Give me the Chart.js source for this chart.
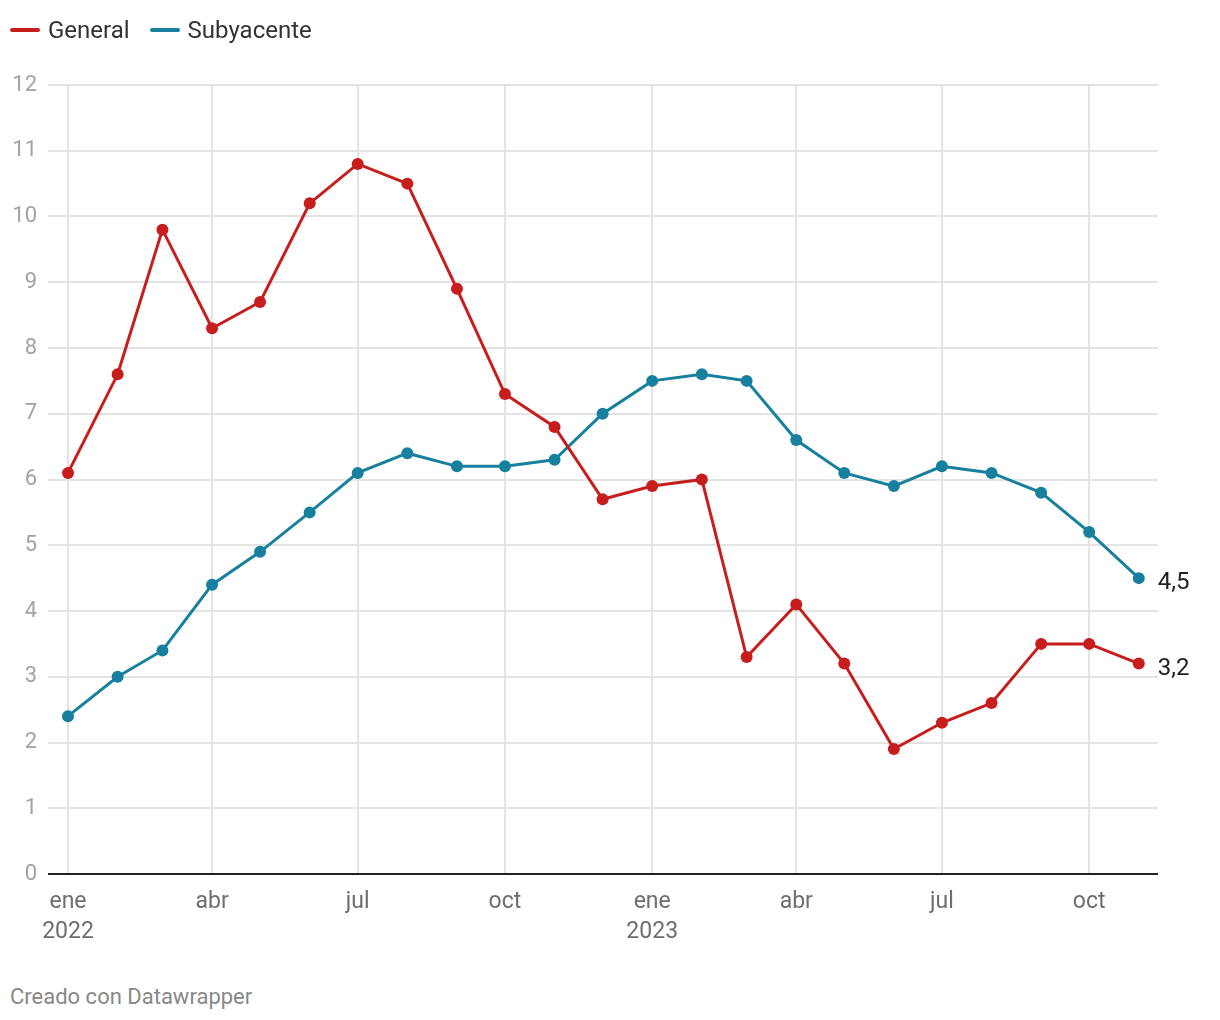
<!DOCTYPE html>
<html>
<head>
<meta charset="utf-8">
<script src="https://cdn.jsdelivr.net/npm/chart.js@4"></script>
<style>
  body { margin: 0; background: #fff; font-family: Roboto, sans-serif; }
  #wrap { position: relative; width: 1220px; height: 1020px; }
  #legend { position: absolute; left: 10px; top: 16px; display: flex; font-size: 24px; color: #333; }
  .item { display: flex; align-items: center; margin-right: 20px; }
  .swatch { width: 30px; height: 4px; border-radius: 2px; margin-right: 8px; }
  #footer { position: absolute; left: 10px; top: 984px; font-size: 22px; color: #888; }
  canvas { position: absolute; left: 0; top: 1px; }
</style>
</head>
<body>
<div id="wrap">
  <canvas id="chart" width="1220" height="960"></canvas>
  <div id="legend">
    <div class="item"><span class="swatch" style="background:#c71e1d"></span>General</div>
    <div class="item"><span class="swatch" style="background:#18809f"></span>Subyacente</div>
  </div>
  <div id="footer">Creado con Datawrapper</div>
</div>
<script>
// data
var months = ['2022-01','2022-02','2022-03','2022-04','2022-05','2022-06','2022-07','2022-08','2022-09','2022-10','2022-11','2022-12',
              '2023-01','2023-02','2023-03','2023-04','2023-05','2023-06','2023-07','2023-08','2023-09','2023-10','2023-11'];
var general    = [6.1, 7.6, 9.8, 8.3, 8.7, 10.2, 10.8, 10.5, 8.9, 7.3, 6.8, 5.7, 5.9, 6.0, 3.3, 4.1, 3.2, 1.9, 2.3, 2.6, 3.5, 3.5, 3.2];
var subyacente = [2.4, 3.0, 3.4, 4.4, 4.9, 5.5, 6.1, 6.4, 6.2, 6.2, 6.3, 7.0, 7.5, 7.6, 7.5, 6.6, 6.1, 5.9, 6.2, 6.1, 5.8, 5.2, 4.5];
var tickMonths = ['2022-01','2022-04','2022-07','2022-10','2023-01','2023-04','2023-07','2023-10'];
var tickLabels = [['ene','2022'],'abr','jul','oct',['ene','2023'],'abr','jul','oct'];

var RED = '#c71e1d', BLUE = '#18809f';

// days since 1 Jan 2022
function dayOf(m) {
  var p = m.split('-');
  return (Date.UTC(+p[0], +p[1] - 1, 1) - Date.UTC(2022, 0, 1)) / 86400000;
}
function toPoints(vals) {
  return vals.map(function (v, i) { return { x: dayOf(months[i]), y: v }; });
}
var tickDays = tickMonths.map(dayOf);

var endLabels = {
  id: 'endLabels',
  afterDatasetsDraw: function (chart) {
    var ctx = chart.ctx;
    ctx.save();
    ctx.font = '24px Roboto';
    ctx.fillStyle = '#222';
    ctx.textBaseline = 'middle';
    chart.data.datasets.forEach(function (ds, i) {
      var meta = chart.getDatasetMeta(i);
      var last = meta.data[meta.data.length - 1];
      var v = ds.data[ds.data.length - 1].y;
      ctx.fillText(v.toFixed(1).replace('.', ','), last.x + 19, last.y + 5);
    });
    ctx.restore();
  }
};

new Chart(document.getElementById('chart'), {
  type: 'line',
  data: {
    datasets: [
      { label: 'General', data: toPoints(general), borderColor: RED, backgroundColor: RED,
        borderWidth: 3, pointRadius: 6, pointHoverRadius: 6, pointBorderWidth: 0, tension: 0 },
      { label: 'Subyacente', data: toPoints(subyacente), borderColor: BLUE, backgroundColor: BLUE,
        borderWidth: 3, pointRadius: 6, pointHoverRadius: 6, pointBorderWidth: 0, tension: 0 }
    ]
  },
  options: {
    responsive: false,
    animation: false,
    layout: { padding: { top: 84, right: 62, left: 0, bottom: 0 } },
    plugins: { legend: { display: false }, tooltip: { enabled: false } },
    scales: {
      x: {
        type: 'linear',
        min: -12.5,
        max: 681,
        afterBuildTicks: function (scale) {
          scale.ticks = tickDays.map(function (d) { return { value: d }; });
        },
        afterFit: function (scale) { scale.height = 87; },
        grid: { color: '#e3e3e3', lineWidth: 2, drawTicks: false },
        border: { display: false },
        ticks: {
          padding: 13,
          maxRotation: 0,
          autoSkip: false,
          color: '#6e6e6e',
          font: { family: 'Roboto', size: 23, lineHeight: 1.3 },
          callback: function (v) { return tickLabels[tickDays.indexOf(v)]; }
        }
      },
      y: {
        min: 0,
        max: 12,
        afterFit: function (scale) { scale.width = 48; },
        grid: {
          drawTicks: false,
          color: function (c) { return c.tick.value === 0 ? '#222' : '#e3e3e3'; },
          lineWidth: 2
        },
        border: { display: false },
        ticks: {
          stepSize: 1,
          padding: 11,
          color: '#a3a3a3',
          font: { family: 'Roboto', size: 22 }
        }
      }
    }
  },
  plugins: [endLabels]
});
</script>
</body>
</html>
